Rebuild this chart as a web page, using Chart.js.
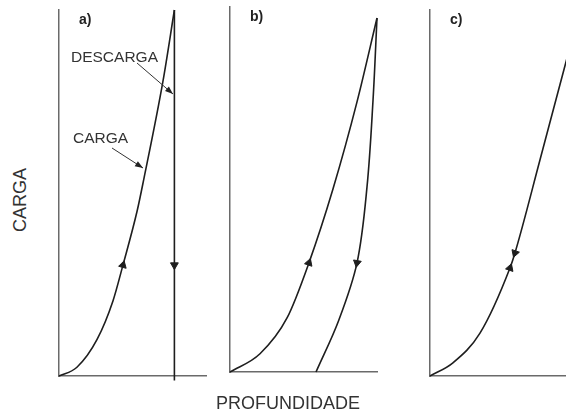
<!DOCTYPE html>
<html>
<head>
<meta charset="utf-8">
<script src="https://cdn.jsdelivr.net/npm/chart.js@4/dist/chart.umd.min.js"></script>
<style>
  html, body { margin: 0; padding: 0; width: 566px; height: 414px; overflow: hidden; background: #fff; }
  canvas { position: absolute; }
  .lbl { position: absolute; font-family: "Liberation Sans", Arial, sans-serif; font-size: 18px; color: #333; white-space: nowrap; line-height: 1; }
</style>
</head>
<body>
<canvas id="pa"></canvas>
<canvas id="pb"></canvas>
<canvas id="pc"></canvas>
<div class="lbl" id="ylab">CARGA</div>
<div class="lbl" id="xlab">PROFUNDIDADE</div>
<script>
// Panel letters and axis titles
const panelLetters = ['a)', 'b)', 'c)'];
const yTitle = 'CARGA';
const xTitle = 'PROFUNDIDADE';
const curveLabels = ['DESCARGA', 'CARGA'];

// a) loading curve, then vertical unloading (depth, load)
const loadA   = [[0,0],[12.2,2.4],[25.9,10.0],[36.7,20.5],[43.5,30.3],[53.1,45.0],[57.8,54.0],[70.7,80.5],[78.5,100]];
const unloadA = [[78.5,100],[78.5,30.3],[78.5,-1.2]];

// b) loading curve and curved unloading with residual depth
const loadB   = [[0,0],[20.4,5.0],[38.8,14.8],[53.7,29.9],[70.1,50.2],[86.4,74.0],[100,97]];
const unloadB = [[100,97],[97.3,74.5],[93.2,50.7],[86.4,29.9],[74.0,14.2],[58.5,0]];

// c) loading and unloading on the same path
const loadC   = [[0,0],[15.6,3.6],[34,11.7],[54.4,29.5],[57.8,33.6],[74.8,59],[92.5,85.8],[100,97]];

const INK = '#1e1e1e';
const AXIS = '#6a6a6a';
const PAD = 14;

function pts(arr) { return arr.map(p => ({ x: p[0], y: p[1] })); }

// mode: 'monotone' (spline along depth), 'bezier' (parametric), or 'straight'
function curve(arr, mode) {
  return {
    type: 'scatter', data: pts(arr), showLine: true,
    borderColor: INK, borderWidth: 1.6, pointRadius: 0,
    tension: mode === 'bezier' ? 0.35 : 0,
    cubicInterpolationMode: mode === 'monotone' ? 'monotone' : 'default',
    clip: false
  };
}

function arrow(p, rot) {
  return {
    type: 'scatter', data: pts([p]), showLine: false,
    pointStyle: 'triangle', pointRadius: 4.5, rotation: rot,
    backgroundColor: INK, borderColor: INK, borderWidth: 1, clip: false
  };
}

function drawArrowLine(ctx, x1, y1, x2, y2) {
  ctx.save();
  ctx.strokeStyle = '#333';
  ctx.fillStyle = '#222';
  ctx.lineWidth = 1;
  ctx.beginPath(); ctx.moveTo(x1, y1); ctx.lineTo(x2, y2); ctx.stroke();
  const ang = Math.atan2(y2 - y1, x2 - x1);
  const L = 8, W = 3;
  ctx.beginPath();
  ctx.moveTo(x2, y2);
  ctx.lineTo(x2 - L * Math.cos(ang) + W * Math.sin(ang), y2 - L * Math.sin(ang) - W * Math.cos(ang));
  ctx.lineTo(x2 - L * Math.cos(ang) - W * Math.sin(ang), y2 - L * Math.sin(ang) + W * Math.cos(ang));
  ctx.closePath(); ctx.fill();
  ctx.restore();
}

function makePanel(id, area, datasets, letter, annotate) {
  const cv = document.getElementById(id);
  cv.width = area.w + 2 * PAD;
  cv.height = area.h + 2 * PAD;
  cv.style.left = (area.left - PAD) + 'px';
  cv.style.top = (area.top - PAD) + 'px';
  const axisOpts = (min, max) => ({
    type: 'linear', min, max,
    ticks: { display: false },
    grid: { display: false, drawTicks: false, tickLength: 0 },
    border: { display: true, color: AXIS, width: 1.5 }
  });
  return new Chart(cv, {
    type: 'scatter',
    data: { datasets },
    options: {
      responsive: false, animation: false, devicePixelRatio: 1,
      layout: { padding: PAD },
      plugins: { legend: { display: false }, tooltip: { enabled: false } },
      scales: { x: axisOpts(0, 100), y: axisOpts(0, 100) }
    },
    plugins: [{
      id: 'panelText',
      afterDraw(chart) {
        const ctx = chart.ctx, a = chart.chartArea;
        ctx.save();
        ctx.fillStyle = '#222';
        ctx.textBaseline = 'middle';
        ctx.font = 'bold 14px "Liberation Sans", Arial, sans-serif';
        ctx.fillText(letter, a.left + 20, a.top + 10);
        ctx.restore();
        if (annotate) annotate(chart);
      }
    }]
  });
}

// a)
makePanel('pa', { left: 59, top: 10, w: 147, h: 366 }, [
  curve(loadA, 'monotone'), curve(unloadA, 'straight'),
  arrow(loadA[4], 15), arrow(unloadA[1], 180)
], panelLetters[0], chart => {
  const ctx = chart.ctx, a = chart.chartArea;
  ctx.save();
  ctx.fillStyle = '#333';
  ctx.textBaseline = 'middle';
  ctx.font = '15.5px "Liberation Sans", Arial, sans-serif';
  ctx.fillText(curveLabels[0], a.left + 12, a.top + 48);
  ctx.fillText(curveLabels[1], a.left + 14, a.top + 129);
  ctx.restore();
  drawArrowLine(ctx, a.left + 78, a.top + 53, a.left + 114, a.top + 84);
  drawArrowLine(ctx, a.left + 53, a.top + 138, a.left + 84, a.top + 158);
});

// b)
makePanel('pb', { left: 230, top: 7, w: 147, h: 365 }, [
  curve(loadB, 'monotone'), curve(unloadB, 'bezier'),
  arrow(loadB[3], 19), arrow(unloadB[3], 190)
], panelLetters[1]);

// c)
makePanel('pc', { left: 430, top: 10, w: 147, h: 366 }, [
  curve(loadC, 'monotone'),
  arrow(loadC[4], 199), arrow(loadC[3], 19)
], panelLetters[2]);

// Shared axis titles
const yl = document.getElementById('ylab');
yl.textContent = yTitle;
yl.style.left = (20 - yl.offsetWidth / 2) + 'px';
yl.style.top = (200 - yl.offsetHeight / 2) + 'px';
yl.style.transform = 'rotate(-90deg)';
const xl = document.getElementById('xlab');
xl.textContent = xTitle;
xl.style.left = (288 - xl.offsetWidth / 2) + 'px';
xl.style.top = (403 - xl.offsetHeight / 2) + 'px';
</script>
</body>
</html>
